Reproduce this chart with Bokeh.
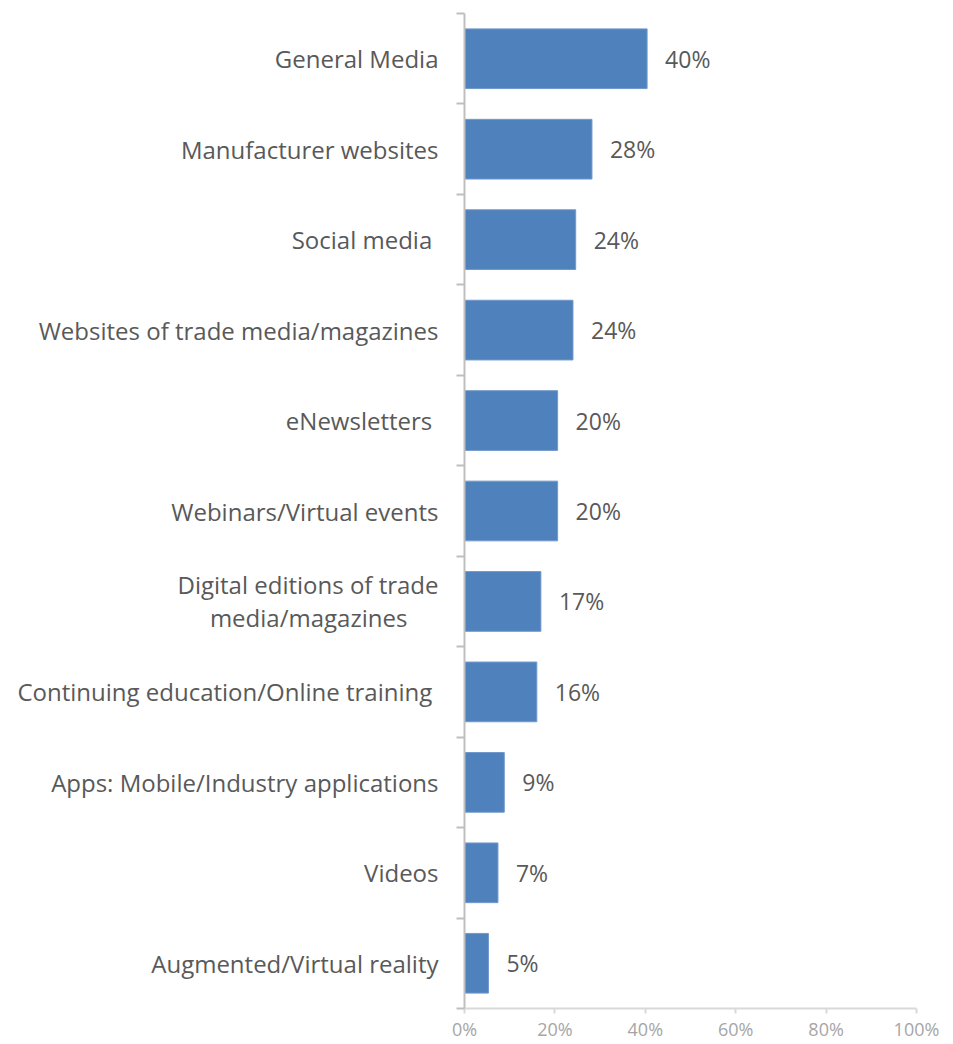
from bokeh.plotting import figure
from bokeh.models import ColumnDataSource, FixedTicker, PrintfTickFormatter, Range1d
from bokeh.core.properties import value
from bokeh.embed import file_html
from bokeh.resources import INLINE

categories = [
    "General Media",
    "Manufacturer websites",
    "Social media ",
    "Websites of trade media/magazines",
    "eNewsletters ",
    "Webinars/Virtual events",
    "Digital editions of trade\nmedia/magazines\u00a0\u00a0\u00a0\u00a0\u00a0",
    "Continuing education/Online training ",
    "Apps: Mobile/Industry applications",
    "Videos",
    "Augmented/Virtual reality",
]
values = [40.4, 28.2, 24.6, 24.0, 20.6, 20.6, 16.9, 16.0, 8.8, 7.4, 5.3]
value_labels = ["40%", "28%", "24%", "24%", "20%", "20%", "17%", "16%", "9%", "7%", "5%"]
x_ticks = [0, 20, 40, 60, 80, 100]

n = len(categories)
ypos = [n - 0.5 - i for i in range(n)]

src = ColumnDataSource(dict(y=ypos, v=values, lab=value_labels))

FONT = "Open Sans"
TXT = "#595959"

p = figure(width=945, height=1044, output_backend="svg", toolbar_location=None,
           x_range=Range1d(0, 100), y_range=Range1d(0, n),
           min_border_left=464, min_border_right=29, min_border_top=13, min_border_bottom=36)
p.outline_line_color = None
p.grid.grid_line_color = None
p.background_fill_color = "white"
p.border_fill_color = "white"

p.hbar(y="y", right="v", left=0, height=0.66, source=src,
       fill_color="#4f81bd", line_color="#7199cb", line_width=1)

p.text(x="v", y="y", text="lab", source=src, x_offset=18,
       text_align="left", text_baseline="middle",
       text_font=value(FONT), text_font_size="23px", text_color=TXT)

# y axis: labels at category centers, ticks at boundaries
yax = p.yaxis[0]
yax.ticker = FixedTicker(ticks=ypos, minor_ticks=list(range(n + 1)))
yax.major_label_overrides = {ypos[i]: categories[i] for i in range(n)}
yax.major_tick_out = 0
yax.major_tick_in = 0
yax.minor_tick_out = 8
yax.minor_tick_in = 0
yax.minor_tick_line_color = "#bfbfbf"
yax.minor_tick_line_width = 2
yax.axis_line_color = "#bfbfbf"
yax.axis_line_width = 2
yax.major_label_standoff = 18
yax.major_label_text_font = FONT
yax.major_label_text_font_size = "24px"
yax.major_label_text_line_height = 1.0
yax.major_label_text_color = TXT

xax = p.xaxis[0]
xax.ticker = FixedTicker(ticks=x_ticks, minor_ticks=[])
xax.formatter = PrintfTickFormatter(format="%d%%")
xax.axis_line_color = "#d9d9d9"
xax.axis_line_width = 2
xax.major_tick_line_color = "#d9d9d9"
xax.major_tick_line_width = 2
xax.major_tick_out = 5
xax.major_tick_in = 0
xax.major_label_standoff = 3
xax.major_label_text_font = FONT
xax.major_label_text_font_size = "18px"
xax.major_label_text_color = "#a6a6a6"

open("out.html", "w").write(file_html(p, INLINE))
